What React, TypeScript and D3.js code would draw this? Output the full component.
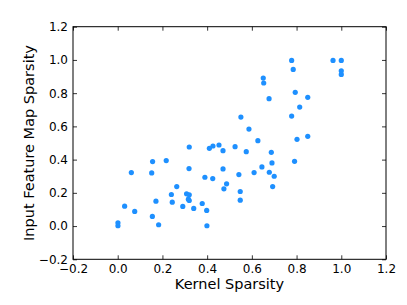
import { useEffect, useRef } from 'react';
import * as d3 from 'd3';

// values
const kernelSparsity = [
  0.778, 0.963, 1.0, 0.785, 1.0, 1.0, 0.651, 0.653, 0.794, 0.85,
  0.677, 0.814, 0.778, 0.551, 0.587, 0.627, 0.802, 0.85, 0.525, 0.471,
  0.575, 0.687, 0.69, 0.791, 0.471, 0.645, 0.542, 0.61, 0.678, 0.7,
  0.487, 0.475, 0.693, 0.548, 0.548, 0.32, 0.41, 0.426, 0.453, 0.156,
  0.217, 0.319, 0.061, 0.152, 0.39, 0.425, 0.264, 0.24, 0.308, 0.32,
  0.316, 0.32, 0.171, 0.244, 0.378, 0.291, 0.34, 0.031, 0.398, 0.076,
  0.001, 0.001, 0.155, 0.183, 0.399,
];
const featureMapSparsity = [
  0.997, 0.997, 0.997, 0.943, 0.935, 0.913, 0.891, 0.861, 0.805, 0.775,
  0.767, 0.716, 0.662, 0.656, 0.584, 0.514, 0.522, 0.54, 0.478, 0.454,
  0.448, 0.444, 0.38, 0.39, 0.344, 0.356, 0.31, 0.322, 0.324, 0.3,
  0.254, 0.224, 0.238, 0.208, 0.156, 0.476, 0.468, 0.482, 0.488, 0.388,
  0.394, 0.346, 0.322, 0.32, 0.294, 0.286, 0.238, 0.19, 0.194, 0.188,
  0.162, 0.154, 0.15, 0.144, 0.136, 0.118, 0.106, 0.12, 0.094, 0.088,
  0.02, 0.002, 0.058, 0.008, 0.002,
];
const tickValues = [-0.2, 0, 0.2, 0.4, 0.6, 0.8, 1.0, 1.2];
const xLabel = 'Kernel Sparsity';
const yLabel = 'Input Feature Map Sparsity';

const W = 407;
const H = 305;
const margin = { left: 73, right: 21, top: 26.7, bottom: 45.7 };
const font = '"DejaVu Sans", sans-serif';

export default function App() {
  const svgRef = useRef<SVGSVGElement>(null);

  useEffect(() => {
    if (!svgRef.current) return;
    const svg = d3.select(svgRef.current);
    svg.selectAll('*').remove();

    const x = d3.scaleLinear().domain([-0.2, 1.2]).range([margin.left, W - margin.right]);
    const y = d3.scaleLinear().domain([-0.2, 1.2]).range([H - margin.bottom, margin.top]);
    const fmt = (d: number) => d3.format('.1f')(d).replace('-', '\u2212');

    svg.append('rect')
      .attr('width', W).attr('height', H).attr('fill', 'white');

    // points
    svg.append('g')
      .selectAll('circle')
      .data(kernelSparsity.map((k, i) => [k, featureMapSparsity[i]]))
      .enter().append('circle')
      .attr('cx', d => x(d[0]))
      .attr('cy', d => y(d[1]))
      .attr('r', 2.6)
      .attr('fill', '#1e90ff');

    const styleAxis = (g: any, labels: boolean) => {
      g.select('.domain').remove();
      g.selectAll('line').attr('stroke', '#000').attr('stroke-width', 0.8);
      g.selectAll('text')
        .style('font-family', font)
        .style('font-size', '12px')
        .attr('fill', '#000');
      if (!labels) g.selectAll('text').remove();
    };

    svg.append('g')
      .attr('transform', `translate(0,${H - margin.bottom})`)
      .call(d3.axisBottom(x).tickValues(tickValues).tickFormat(fmt).tickSizeInner(-4).tickSizeOuter(0).tickPadding(5))
      .call((g: any) => styleAxis(g, true));
    svg.append('g')
      .attr('transform', `translate(0,${margin.top})`)
      .call(d3.axisTop(x).tickValues(tickValues).tickSizeInner(-4).tickSizeOuter(0))
      .call((g: any) => styleAxis(g, false));
    svg.append('g')
      .attr('transform', `translate(${margin.left},0)`)
      .call(d3.axisLeft(y).tickValues(tickValues).tickFormat(fmt).tickSizeInner(-4).tickSizeOuter(0).tickPadding(5))
      .call((g: any) => styleAxis(g, true));
    svg.append('g')
      .attr('transform', `translate(${W - margin.right},0)`)
      .call(d3.axisRight(y).tickValues(tickValues).tickSizeInner(-4).tickSizeOuter(0))
      .call((g: any) => styleAxis(g, false));

    // frame
    svg.append('rect')
      .attr('x', margin.left).attr('y', margin.top)
      .attr('width', W - margin.left - margin.right)
      .attr('height', H - margin.top - margin.bottom)
      .attr('fill', 'none').attr('stroke', '#000').attr('stroke-width', 1);

    svg.append('text')
      .attr('x', (margin.left + W - margin.right) / 2)
      .attr('y', 289)
      .attr('text-anchor', 'middle')
      .style('font-family', font)
      .style('font-size', '14.5px')
      .text(xLabel);

    svg.append('text')
      .attr('transform', `translate(34,${(margin.top + H - margin.bottom) / 2}) rotate(-90)`)
      .attr('text-anchor', 'middle')
      .style('font-family', font)
      .style('font-size', '14.5px')
      .text(yLabel);
  }, []);

  return (
    <svg
      ref={svgRef}
      width={W}
      height={H}
      style={{ position: 'absolute', left: 0, top: 0 }}
    />
  );
}
